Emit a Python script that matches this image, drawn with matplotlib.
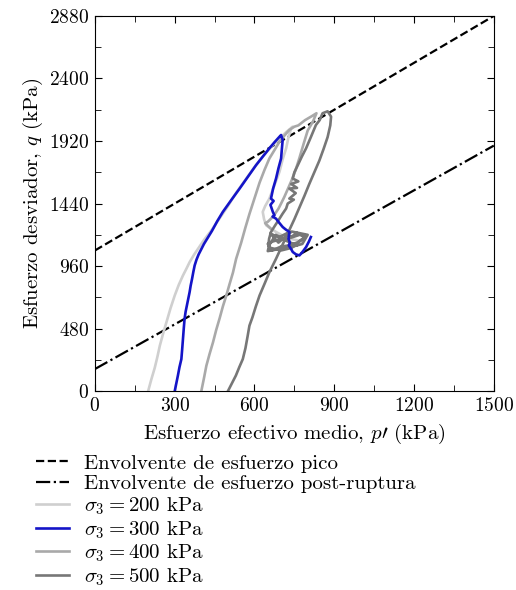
import matplotlib
matplotlib.use("Agg")
import matplotlib.pyplot as plt
from matplotlib.ticker import MultipleLocator

plt.rcParams['font.family'] = 'serif'
plt.rcParams['font.serif'] = ['cmr10', 'DejaVu Serif']
plt.rcParams['mathtext.fontset'] = 'cm'
plt.rcParams['axes.formatter.use_mathtext'] = True

# envelopes (q = M p + c)
peak_M, peak_c = 1.2, 1080
post_M, post_c = 1.143, 170
p_env = [0, 1500]

# stress paths (p' kPa, q kPa)
p200 = [200, 212, 225, 235, 244, 256, 269, 284, 300, 315, 331, 344, 356, 372, 390, 410,
        440, 470, 500, 530, 565, 600, 635, 665, 695, 720, 744, 738, 728, 719, 706, 694,
        675, 656, 640, 631, 636, 644, 660, 681, 705, 731, 756, 781]
q200 = [0, 90, 180, 265, 349, 440, 530, 635, 734, 815, 888, 940, 990, 1045, 1100, 1160,
        1240, 1330, 1420, 1520, 1620, 1720, 1810, 1880, 1940, 1990, 2030, 2018, 1950, 1864, 1780, 1684,
        1580, 1478, 1420, 1376, 1320, 1273, 1250, 1222, 1195, 1170, 1160, 1145]

p300 = [300, 306, 312, 318, 325, 328, 331, 334, 337, 341, 346, 351, 356, 360, 365, 370,
        375, 382, 390, 400, 410, 425, 440, 460, 481, 512, 544, 575, 606, 631, 656, 675,
        694, 700, 706, 703, 700, 690, 681, 670, 662, 672, 660, 669, 675, 668, 681, 694,
        706, 718, 731, 728, 733, 729, 738, 744, 756, 769, 781, 794, 805, 812]
q300 = [0, 60, 120, 185, 246, 320, 400, 480, 554, 610, 660, 710, 760, 810, 860, 915,
        965, 1010, 1050, 1090, 1130, 1180, 1230, 1305, 1376, 1465, 1555, 1645, 1735, 1800, 1864, 1910,
        1953, 1966, 1928, 1860, 1786, 1710, 1632, 1555, 1478, 1460, 1430, 1376, 1350, 1340, 1324, 1290,
        1260, 1240, 1222, 1170, 1140, 1119, 1090, 1068, 1050, 1042, 1070, 1106, 1150, 1183]

p400 = [400, 410, 419, 431, 444, 456, 469, 481, 494, 506, 519, 531, 550, 565, 581, 600,
        619, 638, 656, 675, 694, 712, 731, 750, 765, 790, 815, 833, 820, 800, 785, 769,
        755, 740, 725, 712, 700, 690, 680, 670, 660, 650, 640, 650, 660]
q400 = [0, 100, 195, 285, 375, 470, 560, 650, 734, 820, 910, 1016, 1140, 1250, 1360, 1480,
        1600, 1700, 1786, 1850, 1915, 1960, 2005, 2030, 2040, 2080, 2110, 2133, 2070, 2000, 1900, 1790,
        1700, 1620, 1550, 1490, 1440, 1400, 1370, 1340, 1320, 1300, 1290, 1270, 1250]

p500 = [500, 515, 530, 543, 556, 566, 574, 581, 592, 605, 619, 638, 656, 681, 700, 725,
        750, 769, 788, 806, 825, 844, 860, 875, 885, 888, 875, 856, 845, 831, 812, 794,
        778, 763, 750, 744, 765, 738, 760, 731, 755, 731, 748, 725, 719, 705, 694, 680,
        662, 655, 652, 665, 681, 700, 731, 760, 781, 794, 770, 740, 720, 700, 690, 670,
        650, 660, 700, 740, 770, 790, 760, 720, 680, 655, 650, 690, 735, 780, 800, 740,
        690, 660, 700, 760]
q500 = [0, 60, 120, 185, 246, 330, 420, 503, 565, 650, 734, 825, 913, 1016, 1100, 1210,
        1320, 1410, 1500, 1590, 1680, 1770, 1860, 1950, 2040, 2107, 2148, 2133, 2080, 2043, 1950, 1864,
        1800, 1735, 1680, 1632, 1610, 1590, 1560, 1555, 1520, 1478, 1470, 1440, 1402, 1360, 1324, 1280,
        1222, 1170, 1119, 1080, 1093, 1110, 1119, 1140, 1170, 1196, 1200, 1180, 1210, 1190, 1160, 1150,
        1130, 1100, 1080, 1100, 1150, 1180, 1215, 1160, 1200, 1120, 1075, 1090, 1105, 1130, 1200, 1225,
        1140, 1210, 1170, 1120]

fig = plt.figure(figsize=(5.16, 5.90), dpi=100)
ax = fig.add_axes([0.184, 0.337, 0.773, 0.636])

q_peak = [peak_M * p + peak_c for p in p_env]
q_post = [post_M * p + post_c for p in p_env]
ax.plot(p_env, q_peak, color='black', ls='--', lw=1.6, label='Envolvente de esfuerzo pico')
ax.plot(p_env, q_post, color='black', ls='-.', lw=1.6, label='Envolvente de esfuerzo post-ruptura')

ax.plot(p200, q200, color='#cfcfcf', lw=1.9, label=r'$\sigma_3 = 200$ kPa')
ax.plot(p400, q400, color='#a9a9a9', lw=1.9, label=r'$\sigma_3 = 400$ kPa')
ax.plot(p500, q500, color='#777777', lw=1.9, label=r'$\sigma_3 = 500$ kPa')
ax.plot(p300, q300, color='#1414c8', lw=1.9, label=r'$\sigma_3 = 300$ kPa')

ax.set_xlim(0, 1500)
ax.set_ylim(0, 2880)
ax.xaxis.set_major_locator(MultipleLocator(300))
ax.xaxis.set_minor_locator(MultipleLocator(150))
ax.yaxis.set_major_locator(MultipleLocator(480))
ax.yaxis.set_minor_locator(MultipleLocator(240))
ax.tick_params(which='both', direction='in', top=True, right=True, labelsize=14)
ax.tick_params(which='major', length=5, pad=4)
ax.tick_params(which='minor', length=4)
ax.set_xlabel(r"Esfuerzo efectivo medio, $p\prime$ (kPa)", fontsize=15, labelpad=5)
ax.set_ylabel(r"Esfuerzo desviador, $q$ (kPa)", fontsize=15, labelpad=3)

handles, labels = ax.get_legend_handles_labels()
order = [0, 1, 2, 5, 3, 4]
fig.legend([handles[i] for i in order], [labels[i] for i in order],
           loc='upper left', bbox_to_anchor=(0.05, 0.248), frameon=False,
           fontsize=15, handlelength=1.55, labelspacing=0.1, borderpad=0, handletextpad=0.75)

fig.savefig('out.png', dpi=100)
